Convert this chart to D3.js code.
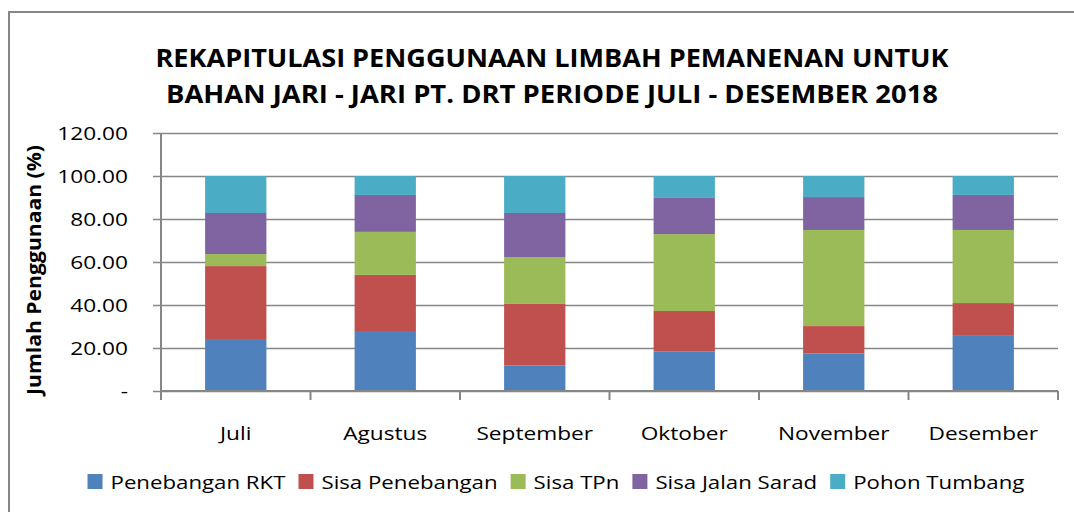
<!DOCTYPE html>
<html>
<head>
<meta charset="utf-8">
<script src="https://cdn.jsdelivr.net/npm/d3@7"></script>
<style>
  body { margin: 0; background: #fff; }
  svg { display: block; font-family: "Open Sans", sans-serif; }
</style>
</head>
<body>
<div id="chart"></div>
<script>
/* Stacked bar: limbah pemanenan per bulan */

const months = ["Juli", "Agustus", "September", "Oktober", "November", "Desember"];
const seriesNames = ["Penebangan RKT", "Sisa Penebangan", "Sisa TPn", "Sisa Jalan Sarad", "Pohon Tumbang"];

// values (%)
const penebanganRKT  = [24.2, 27.9, 11.8, 18.3, 17.4, 26.0];
const sisaPenebangan = [33.9, 26.1, 28.7, 18.9, 12.8, 14.9];
const sisaTPn        = [5.6, 20.0, 21.8, 35.8, 44.7, 34.0];
const sisaJalanSarad = [19.1, 17.2, 20.5, 16.8, 15.3, 16.3];
const pohonTumbang   = [17.2, 8.8, 17.2, 10.2, 9.8, 8.8];

const yTicks = [0, 20, 40, 60, 80, 100, 120];
const yTickLabels = ["-", "20.00", "40.00", "60.00", "80.00", "100.00", "120.00"];

const titleLines = [
    "REKAPITULASI PENGGUNAAN LIMBAH PEMANENAN UNTUK",
    "BAHAN JARI - JARI PT. DRT PERIODE JULI - DESEMBER 2018"
];
const yTitle = "Jumlah Penggunaan (%)";

const colors = ["#4F81BD", "#C0504D", "#9BBB59", "#8064A2", "#4BACC6"];

const width = 1074, height = 512;
const margin = { top: 133, right: 16, bottom: 121, left: 161 };
const sx = 1.26; // the original picture is stretched sideways
const grid = "#868686";

const allSeries = [penebanganRKT, sisaPenebangan, sisaTPn, sisaJalanSarad, pohonTumbang];
const rows = months.map((m, i) => {
    let r = { month: m };
    seriesNames.forEach((s, j) => r[s] = allSeries[j][i]);
    return r;
});
const stacked = d3.stack().keys(seriesNames)(rows);

const svg = d3.select("#chart")
    .append("svg")
    .attr("width", width)
    .attr("height", height)
    .attr("viewBox", [0, 0, width, height]);

// outer chart frame (runs off the right/bottom edge)
svg.append("rect")
    .attr("x", 9).attr("y", 12)
    .attr("width", width + 20).attr("height", height + 20)
    .attr("fill", "none")
    .attr("stroke", grid)
    .attr("stroke-width", 2);

const x = d3.scaleBand()
    .domain(months)
    .range([margin.left, width - margin.right])
    .paddingInner(0.59)
    .paddingOuter(0.295);

const y = d3.scaleLinear()
    .domain([0, 120])
    .range([height - margin.bottom, margin.top]);

// gridlines + y ticks
svg.append("g")
    .attr("transform", `translate(${margin.left},0)`)
    .call(d3.axisLeft(y).tickValues(yTicks)
        .tickSize(-(width - margin.right - margin.left))
        .tickFormat(""))
    .call(g => g.select(".domain").remove())
    .call(g => g.selectAll(".tick line")
        .attr("x1", -8)
        .attr("stroke", grid)
        .attr("stroke-width", 1.5));

// y tick labels
svg.append("g")
    .selectAll("text")
    .data(yTicks)
    .join("text")
    .attr("transform", d => `translate(128,${y(d) + 6.5}) scale(${sx},1)`)
    .attr("text-anchor", "end")
    .attr("font-size", 18)
    .attr("fill", "#000")
    .text((d, i) => yTickLabels[i]);

// bars
svg.append("g")
    .selectAll("g")
    .data(stacked)
    .join("g")
    .attr("fill", (d, i) => colors[i])
    .selectAll("rect")
    .data(d => d)
    .join("rect")
    .attr("x", d => x(d.data.month))
    .attr("width", x.bandwidth())
    .attr("y", d => y(d[1]))
    .attr("height", d => y(d[0]) - y(d[1]));

// axes lines
const step = x.step();
const x0 = margin.left, yBase = y(0);
svg.append("line")
    .attr("x1", x0).attr("x2", x0)
    .attr("y1", y(120)).attr("y2", yBase)
    .attr("stroke", grid).attr("stroke-width", 2);
svg.append("line")
    .attr("x1", x0).attr("x2", width - margin.right)
    .attr("y1", yBase).attr("y2", yBase)
    .attr("stroke", grid).attr("stroke-width", 2);
svg.append("g")
    .selectAll("line")
    .data(d3.range(months.length + 1))
    .join("line")
    .attr("x1", i => x0 + i * step).attr("x2", i => x0 + i * step)
    .attr("y1", yBase).attr("y2", yBase + 9)
    .attr("stroke", grid).attr("stroke-width", 2);

// x labels
svg.append("g")
    .selectAll("text")
    .data(months)
    .join("text")
    .attr("transform", d => `translate(${x(d) + x.bandwidth() / 2},440) scale(${sx},1)`)
    .attr("text-anchor", "middle")
    .attr("font-size", 18)
    .text(d => d);

// title
svg.append("g")
    .selectAll("text")
    .data(titleLines)
    .join("text")
    .attr("x", 552)
    .attr("y", (d, i) => 67 + i * 36)
    .attr("text-anchor", "middle")
    .attr("font-size", 25)
    .attr("font-weight", "bold")
    .attr("textLength", (d, i) => i == 0 ? 793 : 772)
    .attr("lengthAdjust", "spacingAndGlyphs")
    .text(d => d);

// y axis title
svg.append("text")
    .attr("transform", `translate(41,270) rotate(-90) scale(1,${sx})`)
    .attr("text-anchor", "middle")
    .attr("font-size", 16)
    .attr("font-weight", "bold")
    .attr("textLength", 250)
    .attr("lengthAdjust", "spacingAndGlyphs")
    .text(yTitle);

// legend
const legendSx = 1.235;
const legend = svg.append("g");
let items = legend.selectAll("g")
    .data(seriesNames)
    .join("g");
items.append("rect")
    .attr("width", 15).attr("height", 15)
    .attr("y", 474)
    .attr("fill", (d, i) => colors[i]);
items.append("text")
    .attr("font-size", 18)
    .text(d => d);

let pos = 0;
items.each(function() {
    let g = d3.select(this);
    let w = g.select("text").node().getComputedTextLength() * legendSx;
    g.select("rect").attr("x", pos);
    g.select("text").attr("transform", `translate(${pos + 23},489) scale(${legendSx},1)`);
    pos += 23 + w + 13;
});
pos -= 13;
legend.attr("transform", `translate(${556 - pos / 2},0)`);
</script>
</body>
</html>
